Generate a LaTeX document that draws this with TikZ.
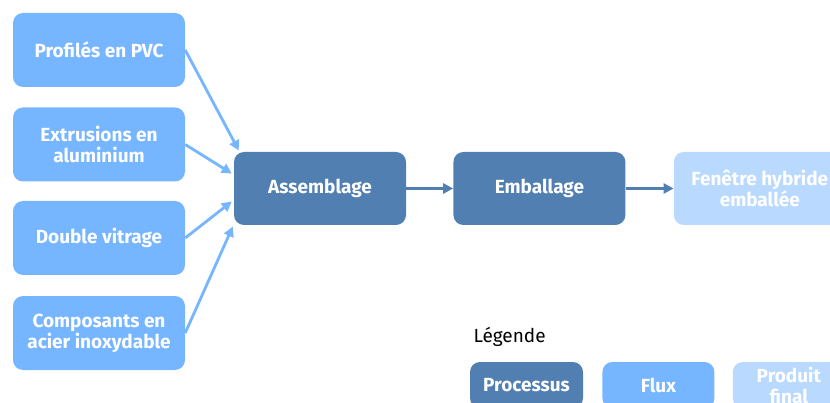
\documentclass[tikz,border=0pt]{standalone}
\usepackage{fontspec}
\setmainfont{Fira Sans}
\usetikzlibrary{positioning,arrows.meta}
\definecolor{procblue}{HTML}{517FB1}
\definecolor{fluxblue}{HTML}{76B5FF}
\definecolor{finalblue}{HTML}{BAD9FF}
\begin{document}
\begin{tikzpicture}[x=1pt,y=1pt,
every node/.style={font=\fontsize{19}{21}\selectfont\bfseries, text=white, align=center},
fluxbox/.style={rectangle, rounded corners=10pt, fill=fluxblue, minimum width=172pt, minimum height=74pt},
procbox/.style={rectangle, rounded corners=10pt, fill=procblue, minimum width=172pt, minimum height=73pt},
finalbox/.style={rectangle, rounded corners=10pt, fill=finalblue, minimum width=172pt, minimum height=73pt},
fluxarrow/.style={-{Triangle[length=10pt,width=10pt]}, line width=2.8pt, fluxblue},
procarrow/.style={-{Triangle[length=10pt,width=10pt]}, line width=2.8pt, procblue}]
\useasboundingbox (0,0) rectangle (830,402);
% inputs
\node[fluxbox] (pvc) at (99,352) {Profilés en PVC};
\node[fluxbox] (alu) at (99,257.5) {Extrusions en\\aluminium};
\node[fluxbox] (vitrage) at (99,164) {Double vitrage};
\node[fluxbox] (acier) at (99,69) {Composants en\\acier inoxydable};
% process chain
\node[procbox] (asm) at (320,213.5) {Assemblage};
\node[procbox, right=47pt of asm] (emb) {Emballage};
\node[finalbox, right=48pt of emb] (fen) {Fenêtre hybride\\emballée};
\coordinate (in1) at ([shift={(5,38)}]asm.west);
\coordinate (in2) at ([shift={(-2,15)}]asm.west);
\coordinate (in3) at ([shift={(-2,-13)}]asm.west);
\coordinate (in4) at ([shift={(-1,-38)}]asm.west);
\draw[fluxarrow] (pvc.east) -- (in1);
\draw[fluxarrow] (alu.east) -- (in2);
\draw[fluxarrow] (vitrage.east) -- (in3);
\draw[fluxarrow] (acier.east) -- (in4);
\draw[procarrow] (asm) -- (emb);
\draw[procarrow] (emb) -- (fen);
% legend
\node[anchor=west, text=black, font=\fontsize{19}{21}\selectfont] (leg) at (470,65) {Légende};
\node[procbox, minimum width=113pt, minimum height=46pt] (lproc) at (526.5,17) {Processus};
\node[fluxbox, minimum width=112pt, minimum height=46pt, right=19pt of lproc] (lflux) {Flux};
\node[finalbox, minimum width=112pt, minimum height=46pt, right=18pt of lflux] (lfinal) {Produit\\final};
\end{tikzpicture}
\end{document}
